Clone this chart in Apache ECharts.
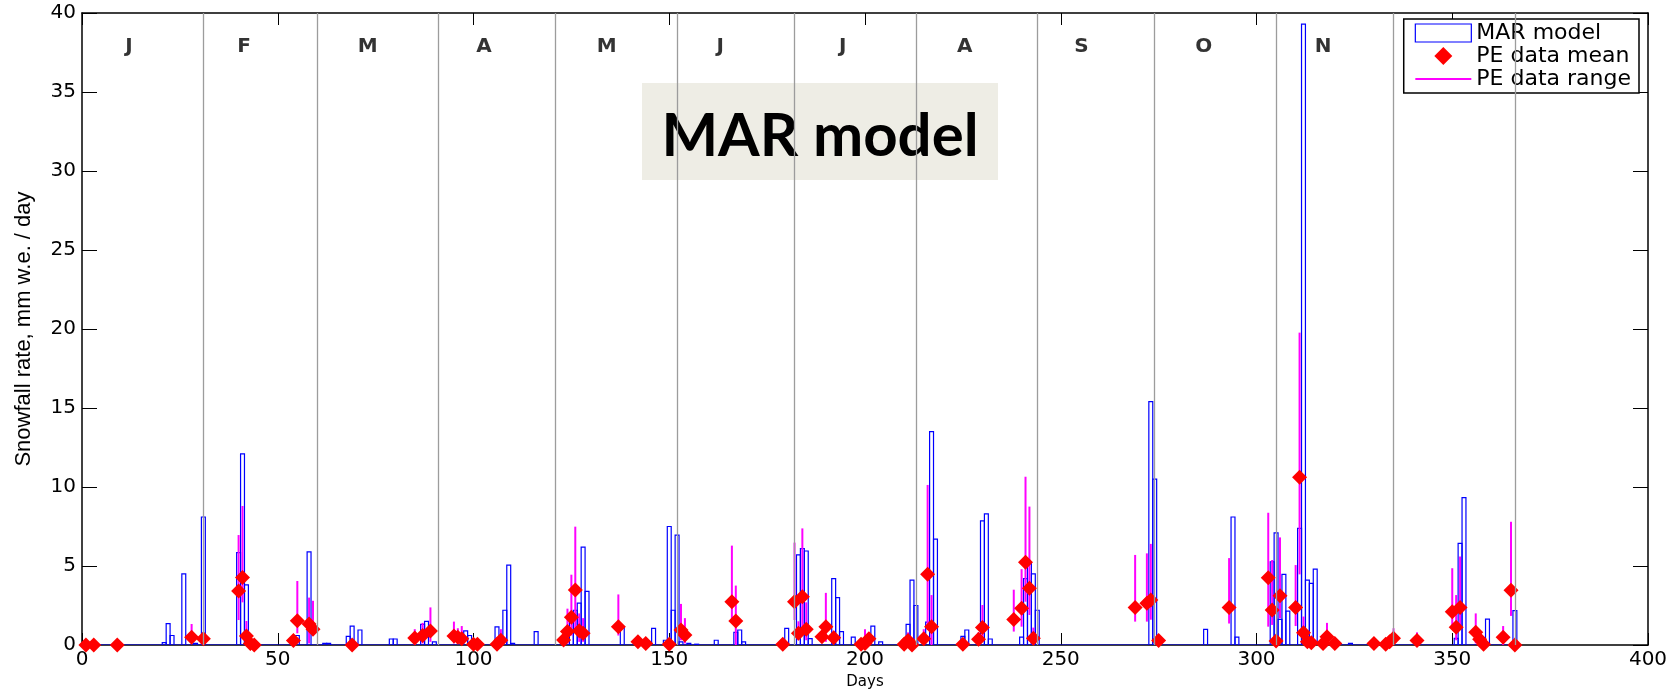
<!DOCTYPE html>
<html>
<head>
<meta charset="utf-8">
<script src="https://cdn.jsdelivr.net/npm/echarts@6/dist/echarts.min.js"></script>
<style>
  html, body { margin: 0; padding: 0; background: #ffffff; }
  #chart { width: 1679px; height: 689px; }
</style>
</head>
<body>
<div id="chart"></div>
<script>
// MAR model daily snowfall (mm w.e. / day); days not listed have no snowfall
const modelDays = [21, 22, 23, 26, 29, 31, 40, 41, 42, 55, 58, 62, 63, 68, 69, 71, 79, 80, 87, 88, 90,
  98, 99, 106, 108, 109, 110, 116, 124, 125, 126, 127, 128, 129, 138, 146, 149, 150, 151, 152, 153,
  155, 157, 162, 167, 168, 169, 180, 183, 184, 185, 186, 192, 193, 194, 197, 202, 204, 211, 212, 213,
  216, 217, 218, 225, 226, 230, 231, 232, 240, 241, 242, 243, 244, 273, 274, 287, 294, 295,
  304, 305, 306, 307, 308, 311, 312, 313, 314, 315, 324, 351, 352, 353, 359, 366];
const modelValues = [0.15, 1.35, 0.6, 4.5, 0.1, 8.1, 5.85, 12.1, 3.8, 0.6, 5.9, 0.1, 0.1, 0.55, 1.2, 0.95, 0.38, 0.38, 1.3, 1.5, 0.2,
  0.9, 0.6, 1.15, 2.2, 5.05, 0.1, 0.85, 0.4, 1.9, 2.2, 2.65, 6.2, 3.4, 1.1, 1.05, 0.3, 7.5, 2.2, 6.95, 0.2,
  0.1, 0.05, 0.3, 0.8, 0.95, 0.2, 1.05, 5.7, 6.1, 5.95, 0.4, 4.2, 3.0, 0.85, 0.5, 1.2, 0.2, 1.3, 4.1, 2.5,
  1.45, 13.5, 6.7, 0.55, 0.95, 7.85, 8.3, 0.38, 0.5, 4.2, 5.15, 4.5, 2.2, 15.4, 10.5, 0.99, 8.1, 0.5,
  5.27, 7.1, 1.62, 4.47, 2.15, 7.38, 39.3, 4.1, 3.9, 4.8, 0.1, 0.42, 6.43, 9.33, 1.64, 2.17];

// PE data: daily mean with min / max range
const peDays = [1, 3, 9, 28, 31, 40, 41, 42, 43, 44, 54, 55, 58, 59, 69, 85, 87, 89, 95, 96, 97, 100, 101, 106, 107,
  123, 124, 125, 126, 127, 128, 137, 142, 144, 150, 153, 154, 166, 167, 179, 182, 183, 184, 185, 189, 190, 192,
  199, 200, 201, 210, 211, 212, 215, 216, 217, 225, 229, 230, 238, 240, 241, 242, 243, 269, 272, 273, 275, 293,
  303, 304, 305, 306, 310, 311, 312, 313, 314, 317, 318, 320, 330, 333, 334, 335, 341, 350, 351, 352, 356, 357,
  358, 363, 365, 366];
const peMean = [0, 0, 0, 0.49, 0.4, 3.42, 4.28, 0.57, 0.1, 0, 0.28, 1.54, 1.33, 0.99, 0, 0.45, 0.6, 0.89, 0.57, 0.49, 0.4, 0.05, 0.05, 0.05, 0.3,
  0.32, 0.85, 1.75, 3.48, 0.9, 0.74, 1.16, 0.2, 0.1, 0.05, 0.95, 0.63, 2.74, 1.52, 0.05, 2.74, 0.74, 3.06, 0.99, 0.53, 1.16, 0.46,
  0.05, 0.1, 0.4, 0.05, 0.28, 0, 0.4, 4.47, 1.16, 0.05, 0.36, 1.1, 1.62, 2.32, 5.23, 3.59, 0.42, 2.38, 2.64, 2.85, 0.28, 2.38,
  4.26, 2.22, 0.25, 3.12, 2.38, 10.61, 0.78, 0.21, 0.15, 0.1, 0.53, 0.1, 0.1, 0.05, 0.2, 0.42, 0.28, 2.11, 1.12, 2.38, 0.8, 0.36,
  0.05, 0.49, 3.46, 0];
const peLow = [0, 0, 0, 0.1, 0.1, 1.58, 2.7, 0.1, 0.1, 0, 0.1, 0.74, 0.1, 0.6, 0, 0, 0.1, 0.2, 0.1, 0.1, 0.1, 0.05, 0.05, 0.05, 0,
  0.32, 0.1, 0.6, 0.9, 0.2, 0.2, 0.6, 0.2, 0.1, 0.05, 0.3, 0.1, 1.58, 0, 0.05, 1.58, 0.3, 1.16, 0.3, 0.2, 0.2, 0.2,
  0.05, 0, 0.1, 0.05, 0, 0, 0, 0.95, 0, 0.05, 0.1, 0.3, 0.85, 1.16, 2.74, 1.9, 0, 1.48, 1.48, 1.6, 0.1, 1.36,
  1.16, 1.27, 0.1, 1.69, 1.2, 4.47, 0.2, 0.1, 0.1, 0.1, 0, 0.1, 0.1, 0.05, 0.1, 0, 0, 1.06, 0.3, 1.16, 0.1, 0.1,
  0.05, 0, 1.84, 0];
const peHigh = [0, 0, 0, 1.33, 0.7, 6.96, 8.8, 1.52, 0.3, 0, 0.6, 4.05, 3.0, 2.8, 0, 1.0, 1.4, 2.38, 1.48, 1.06, 1.2, 0.05, 0.05, 0.3, 1.0,
  0.6, 2.3, 4.45, 7.49, 2.0, 1.7, 3.2, 0.4, 0.3, 0.05, 2.6, 1.7, 6.29, 3.76, 0.05, 6.48, 1.5, 7.38, 2.7, 0.9, 3.3, 0.9,
  0.05, 1.0, 0.8, 0.05, 0.8, 0, 1.0, 10.13, 3.16, 0.05, 0.8, 2.53, 3.5, 4.8, 10.65, 8.76, 1.1, 5.7, 5.8, 6.4, 0.5, 5.5,
  8.37, 5.38, 0.5, 6.81, 5.06, 19.77, 1.8, 0.4, 0.3, 0.3, 1.4, 0.3, 0.3, 0.2, 0.5, 1.06, 0.8, 4.86, 3.16, 5.6, 2.0, 0.6,
  0.2, 1.2, 7.8, 0];

// Calendar: first day of each month after January, and month initials
const monthStarts = [31, 60, 91, 121, 152, 182, 213, 244, 274, 305, 335, 366];
const monthLetters = ['J', 'F', 'M', 'A', 'M', 'J', 'J', 'A', 'S', 'O', 'N'];
const monthLabelDays = [12, 41.4, 73, 102.7, 134, 163, 194.3, 225.5, 255.3, 286.5, 317];
const monthLabelLevel = 37.85;

// Axis ranges
const xMin = 0, xMax = 400, xStep = 50;
const yMin = 0, yMax = 40, yStep = 5;
const yearLength = 366;

// Full-year model series (zero where no snowfall was modelled)
const modelByDay = new Map(modelDays.map((d, i) => [d, modelValues[i]]));
const modelSeriesData = [];
for (let d = 1; d <= yearLength; d++) modelSeriesData.push([d, modelByDay.get(d) || 0]);

const peMeanData = peDays.map((d, i) => [d, peMean[i]]);
const peRangeData = peDays.map((d, i) => [d, peLow[i], peHigh[i]]);

const tickFont = 'DejaVu Sans';
const chart = echarts.init(document.getElementById('chart'), null, { renderer: 'canvas' });

const axisCommon = {
  type: 'value',
  splitLine: { show: false },
  axisLine: { show: true, onZero: false, lineStyle: { color: '#000', width: 1.5 } },
};

chart.setOption({
  animation: false,
  backgroundColor: '#ffffff',
  grid: { left: 82, right: 31, top: 13, bottom: 44, containLabel: false, outerBoundsMode: 'none' },
  xAxis: [
    Object.assign({}, axisCommon, {
      min: xMin, max: xMax, interval: xStep, position: 'bottom',
      name: 'Days', nameLocation: 'middle', nameGap: 22,
      nameTextStyle: { fontFamily: tickFont, fontSize: 15, color: '#000' },
      axisTick: { show: true, inside: true, length: 12, lineStyle: { color: '#000', width: 1 } },
      axisLabel: { show: true, margin: 5, fontFamily: tickFont, fontSize: 20, color: '#000' }
    }),
    Object.assign({}, axisCommon, {
      min: xMin, max: xMax, interval: xStep, position: 'top',
      axisTick: { show: true, inside: true, length: 12, lineStyle: { color: '#000', width: 1 } },
      axisLabel: { show: false }
    })
  ],
  yAxis: [
    Object.assign({}, axisCommon, {
      min: yMin, max: yMax, interval: yStep, position: 'left',
      name: 'Snowfall rate, mm w.e. / day', nameLocation: 'middle', nameGap: 47,
      nameTextStyle: { fontFamily: 'Liberation Sans', fontSize: 22, color: '#000' },
      axisTick: { show: true, inside: true, length: 15, lineStyle: { color: '#000', width: 1 } },
      axisLabel: { show: true, margin: 6, fontFamily: tickFont, fontSize: 20, color: '#000' }
    }),
    Object.assign({}, axisCommon, {
      min: yMin, max: yMax, interval: yStep, position: 'right',
      axisTick: { show: true, inside: true, length: 15, lineStyle: { color: '#000', width: 1 } },
      axisLabel: { show: false }
    })
  ],
  legend: {
    orient: 'vertical',
    right: 40, top: 19,
    itemWidth: 56, itemHeight: 18, itemGap: 1,
    padding: [3, 8, 3, 11],
    borderColor: '#000', borderWidth: 1.5, backgroundColor: '#fff',
    selectedMode: false,
    textStyle: { fontFamily: tickFont, fontSize: 22, color: '#000' },
    data: [
      { name: 'MAR model', icon: 'rect', itemStyle: { color: 'rgba(255,255,255,0)', borderColor: '#0000ff', borderWidth: 1.2 } },
      { name: 'PE data mean', icon: 'path://M5,0L10,5L5,10L0,5Z', itemStyle: { color: '#ff0000' } },
      { name: 'PE data range', icon: 'path://M0,0L56,0L56,2L0,2Z', itemStyle: { color: '#ff00ff' } }
    ]
  },
  graphic: [{
    type: 'group', left: 642, top: 83,
    children: [
      { type: 'rect', shape: { x: 0, y: 0, width: 356, height: 97 }, style: { fill: '#eeede5' } },
      { type: 'text', x: 178, y: 54,
        style: { text: 'MAR model', font: 'bold 60px Lato', fill: '#000',
                 align: 'center', verticalAlign: 'middle', textAlign: 'center', textVerticalAlign: 'middle' } }
    ]
  }],
  series: [
    {
      // month initials along the top, with month boundaries as vertical rules
      name: 'months', type: 'scatter', z: 1, silent: true,
      symbolSize: 1, itemStyle: { color: 'rgba(0,0,0,0)' },
      data: monthLabelDays.map(d => [d, monthLabelLevel]),
      label: { show: true, position: 'inside', formatter: p => monthLetters[p.dataIndex],
               fontFamily: tickFont, fontWeight: 'bold', fontSize: 20, color: '#000' },
      markLine: {
        silent: true, symbol: ['none', 'none'], label: { show: false },
        lineStyle: { color: '#9c9c9c', width: 1.3, type: 'solid' },
        data: monthStarts.map(d => ({ xAxis: d }))
      }
    },
    {
      name: 'MAR model', type: 'custom', z: 2, clip: true,
      data: modelSeriesData,
      renderItem: function (params, api) {
        const day = api.value(0), v = api.value(1);
        const topLeft = api.coord([day - 0.5, v]);
        const bottomRight = api.coord([day + 0.5, 0]);
        return {
          type: 'rect',
          shape: { x: topLeft[0], y: topLeft[1], width: bottomRight[0] - topLeft[0], height: bottomRight[1] - topLeft[1] },
          style: { fill: 'none', stroke: '#0000ff', lineWidth: 1.2 }
        };
      }
    },
    {
      name: 'PE data range', type: 'custom', z: 3, clip: true,
      data: peRangeData,
      renderItem: function (params, api) {
        const day = api.value(0);
        const lo = api.coord([day, api.value(1)]);
        const hi = api.coord([day, api.value(2)]);
        return {
          type: 'line',
          shape: { x1: lo[0], y1: lo[1], x2: hi[0], y2: hi[1] },
          style: { stroke: '#ff00ff', lineWidth: 2 }
        };
      }
    },
    {
      name: 'PE data mean', type: 'scatter', z: 4,
      symbol: 'diamond', symbolSize: 15,
      itemStyle: { color: '#ff0000', opacity: 1 },
      data: peMeanData
    }
  ]
});
</script>
</body>
</html>
